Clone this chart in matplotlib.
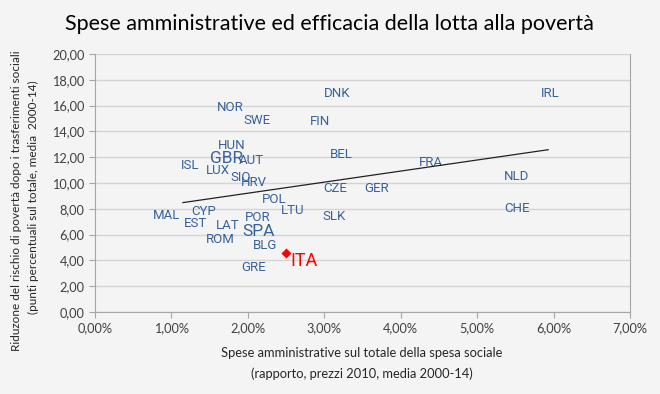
import matplotlib
matplotlib.use("Agg")
import matplotlib.pyplot as plt
from matplotlib.ticker import FuncFormatter

plt.rcParams['font.family'] = ['Lato', 'DejaVu Sans']
NARROW = ['Roboto', 'DejaVu Sans']

countries = ["NOR", "SWE", "FIN", "HUN", "GBR", "AUT", "ISL", "LUX", "SIO", "HRV",
             "POL", "LTU", "MAL", "CYP", "EST", "LAT", "POR", "SPA", "ROM", "BLG",
             "GRE", "DNK", "BEL", "FRA", "CZE", "GER", "SLK", "IRL", "NLD", "CHE"]
admin_share = [1.77, 2.12, 2.95, 1.79, 1.72, 2.04, 1.25, 1.61, 1.90, 2.08,
               2.35, 2.59, 0.94, 1.42, 1.32, 1.74, 2.13, 2.14, 1.64, 2.23,
               2.07, 3.17, 3.22, 4.40, 3.14, 3.69, 3.13, 5.95, 5.51, 5.52]
poverty_reduction = [15.89, 14.84, 14.79, 12.90, 11.88, 11.73, 11.34, 10.95, 10.40, 10.05,
                     8.72, 7.84, 7.49, 7.76, 6.88, 6.67, 7.33, 6.26, 5.60, 5.15,
                     3.42, 16.90, 12.19, 11.60, 9.55, 9.55, 7.42, 16.90, 10.54, 8.05]
big_labels = ["GBR", "SPA"]

ita_x = [2.50]
ita_y = [4.59]

trend_x = [1.15, 5.93]
trend_y = [8.48, 12.58]

x_ticks = [0, 1, 2, 3, 4, 5, 6, 7]
y_ticks = [0, 2, 4, 6, 8, 10, 12, 14, 16, 18, 20]

bg = "#F4F4F4"
lab_col = "#38619A"
fig = plt.figure(figsize=(6.6, 3.94), dpi=100, facecolor=bg)
ax = fig.add_axes([95/660, 1-312/394, 535/660, 258/394], facecolor=bg)

for c, x, y in zip(countries, admin_share, poverty_reduction):
    big = c in big_labels
    ax.text(x, y, c, ha='center', va='center', color=lab_col,
            fontsize=12.5 if big else 9.5, family=NARROW)

ax.plot(trend_x, trend_y, color="#222222", lw=0.9, zorder=3)

ax.scatter(ita_x, ita_y, marker='D', s=26, color="#FF0000", zorder=4, linewidths=0)
ax.annotate("ITA", (ita_x[0], ita_y[0]), xytext=(3, -6), textcoords='offset points',
            ha='left', va='center', color="#FF0000", fontsize=13, family=NARROW)

ax.set_xlim(0, 7)
ax.set_ylim(0, 20)
ax.set_xticks(x_ticks)
ax.set_yticks(y_ticks)
ax.xaxis.set_major_formatter(FuncFormatter(lambda v, p: f"{v:.2f}%".replace('.', ',')))
ax.yaxis.set_major_formatter(FuncFormatter(lambda v, p: f"{v:.2f}".replace('.', ',')))
ax.grid(axis='y', color="#D4D4D4", lw=1)
ax.set_axisbelow(True)
for s in ['left', 'bottom', 'right']:
    ax.spines[s].set_color("#A6A6A6")
ax.spines['top'].set_visible(False)
ax.tick_params(axis='both', colors="#A6A6A6", labelcolor="#404040", labelsize=9.2, length=4)

fig.text(362/660, 1-353/394, "Spese amministrative sul totale della spesa sociale",
         ha='center', va='center', fontsize=9.3, color="#262626")
fig.text(362/660, 1-374/394, "(rapporto, prezzi 2010, media 2000-14)",
         ha='center', va='center', fontsize=9.3, color="#262626")

fig.text(17/660, 1-201/394, "Riduzone del rischio di povertà dopo i trasferimenti sociali",
         rotation=90, ha='center', va='center', fontsize=8.5, color="#262626")
fig.text(33/660, 1-197/394, "(punti percentuali sul totale, media  2000-14)",
         rotation=90, ha='center', va='center', fontsize=8.5, color="#262626")

fig.text(329/660, 1-24/394, "Spese amministrative ed efficacia della lotta alla povertà",
         ha='center', va='center', fontsize=15.5, color="#000000")

fig.savefig("out.png", dpi=100, facecolor=bg)
